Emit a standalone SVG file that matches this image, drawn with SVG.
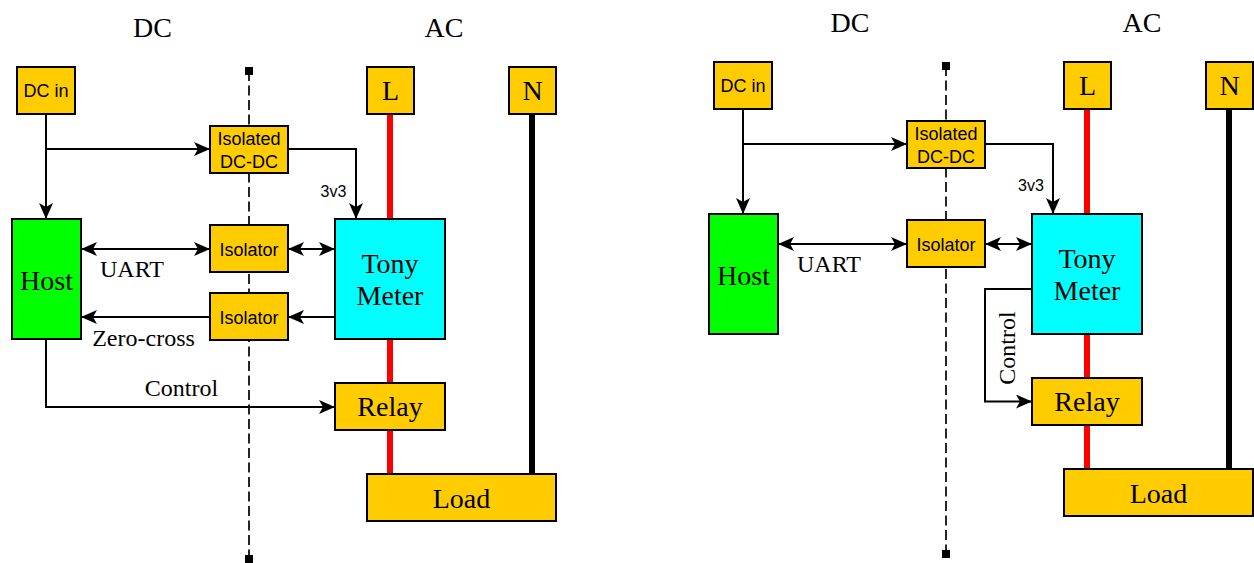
<svg xmlns="http://www.w3.org/2000/svg" width="1254" height="563" viewBox="0 0 1254 563">
<style>
.box{stroke:#000;stroke-width:2}
.amb{fill:#FFCC00}
.grn{fill:#00FF00}
.cyn{fill:#00FFFF}
.serif{font-family:"Liberation Serif","Times New Roman",serif;fill:#000}
.sans{font-family:"Liberation Sans",Arial,sans-serif;fill:#000}
.big{font-size:28px}
.mid{font-size:24px}
.sm{font-size:18px}
.xs{font-size:16px}
.c{text-anchor:middle}
.wire{fill:none;stroke:#000;stroke-width:2}
.arr{marker-end:url(#ah)}
.dbl{marker-start:url(#ah);marker-end:url(#ah)}
.dash{stroke:#000;stroke-width:1.7;stroke-dasharray:10 4.5;fill:none}
.red{stroke:#FF0000;stroke-width:6;fill:none}
.blk{stroke:#000;stroke-width:6;fill:none}
</style>
<defs>
<marker id="ah" markerUnits="userSpaceOnUse" viewBox="0 0 16 14" refX="16" refY="7" markerWidth="16" markerHeight="14" orient="auto-start-reverse">
<path d="M0,0 L16,7 L0,14 L4,7 Z" fill="#000"/>
</marker>
</defs>
<rect width="1254" height="563" fill="#fff"/>

<!-- titles -->
<g id="titles">
<text class="serif big c" x="152.5" y="37">DC</text>
<text class="serif big c" x="444" y="37">AC</text>
<text class="serif big c" x="850" y="32">DC</text>
<text class="serif big c" x="1142" y="32">AC</text>
</g>

<!-- isolation barriers -->
<g id="barrier-left">
<line class="dash" x1="249" y1="71" x2="249" y2="559"/>
<rect x="245" y="67" width="8" height="8" fill="#000"/>
<rect x="245" y="555" width="8" height="8" fill="#000"/>
</g>
<g id="barrier-right">
<line class="dash" x1="946" y1="66" x2="946" y2="554"/>
<rect x="942" y="62" width="8" height="8" fill="#000"/>
<rect x="942" y="550" width="8" height="8" fill="#000"/>
</g>

<!-- connectors -->
<g id="connectors">
<!-- left -->
<path class="red" d="M390,114 V219 M390,339 V383 M390,430 V474"/>
<path class="blk" d="M532,114 V474"/>
<path class="wire arr" d="M46,114 V219"/>
<path class="wire arr" d="M46,149 H210"/>
<path class="wire arr" d="M288,149 H356 V219"/>
<path class="wire dbl" d="M81,249 H210"/>
<path class="wire dbl" d="M288,249 H335"/>
<path class="wire arr" d="M335,317 H288"/>
<path class="wire arr" d="M210,317 H81"/>
<path class="wire arr" d="M46,339 V407 H335"/>
<text class="sans xs c" x="333.5" y="197">3v3</text>
<text class="serif mid" x="100" y="277">UART</text>
<text class="serif mid c" x="143.5" y="346">Zero-cross</text>
<text class="serif mid c" x="181.5" y="396">Control</text>
<!-- right -->
<path class="red" d="M1087,109 V214 M1087,334 V378 M1087,425 V469"/>
<path class="blk" d="M1229,109 V469"/>
<path class="wire arr" d="M743,109 V214"/>
<path class="wire arr" d="M743,144 H907"/>
<path class="wire arr" d="M985,144 H1053 V214"/>
<path class="wire dbl" d="M778,244 H907"/>
<path class="wire dbl" d="M985,244 H1032"/>
<path class="wire arr" d="M1032,289 H985 V401.5 H1032"/>
<text class="sans xs c" x="1031" y="191">3v3</text>
<text class="serif mid" x="797" y="272">UART</text>
<text class="serif mid c" transform="translate(1015,348) rotate(-90)" x="0" y="0">Control</text>
</g>

<!-- left nodes -->
<g id="dcin-left"><rect class="box amb" x="17" y="67" width="58" height="47"/><text class="sans sm c" x="46" y="97">DC in</text></g>
<g id="dcdc-left"><rect class="box amb" x="210" y="126" width="78" height="47"/><text class="sans sm c" x="249" y="145">Isolated</text><text class="sans sm c" x="249" y="168">DC-DC</text></g>
<g id="host-left"><rect class="box grn" x="12" y="219" width="69" height="120"/><text class="serif big c" x="46.5" y="290">Host</text></g>
<g id="iso1-left"><rect class="box amb" x="210" y="225" width="78" height="47"/><text class="sans sm c" x="249" y="256">Isolator</text></g>
<g id="iso2-left"><rect class="box amb" x="210" y="293" width="78" height="47"/><text class="sans sm c" x="249" y="324">Isolator</text></g>
<g id="meter-left"><rect class="box cyn" x="335" y="219" width="110" height="120"/><text class="serif big c" x="390" y="273">Tony</text><text class="serif big c" x="390" y="305">Meter</text></g>
<g id="L-left"><rect class="box amb" x="367" y="67" width="47" height="47"/><text class="serif big c" x="390.5" y="100">L</text></g>
<g id="N-left"><rect class="box amb" x="509" y="67" width="47" height="47"/><text class="serif big c" x="532.5" y="100">N</text></g>
<g id="relay-left"><rect class="box amb" x="335" y="383" width="110" height="47"/><text class="serif big c" x="390" y="416">Relay</text></g>
<g id="load-left"><rect class="box amb" x="367" y="474" width="189" height="47"/><text class="serif big c" x="461.5" y="508">Load</text></g>

<!-- right nodes -->
<g id="dcin-right"><rect class="box amb" x="714" y="62" width="58" height="47"/><text class="sans sm c" x="743" y="92">DC in</text></g>
<g id="dcdc-right"><rect class="box amb" x="907" y="121" width="78" height="47"/><text class="sans sm c" x="946" y="140">Isolated</text><text class="sans sm c" x="946" y="163">DC-DC</text></g>
<g id="host-right"><rect class="box grn" x="709" y="214" width="69" height="120"/><text class="serif big c" x="743.5" y="285">Host</text></g>
<g id="iso-right"><rect class="box amb" x="907" y="220" width="78" height="47"/><text class="sans sm c" x="946" y="251">Isolator</text></g>
<g id="meter-right"><rect class="box cyn" x="1032" y="214" width="110" height="120"/><text class="serif big c" x="1087" y="268">Tony</text><text class="serif big c" x="1087" y="300">Meter</text></g>
<g id="L-right"><rect class="box amb" x="1064" y="62" width="47" height="47"/><text class="serif big c" x="1087.5" y="95">L</text></g>
<g id="N-right"><rect class="box amb" x="1206" y="62" width="47" height="47"/><text class="serif big c" x="1229.5" y="95">N</text></g>
<g id="relay-right"><rect class="box amb" x="1032" y="378" width="110" height="47"/><text class="serif big c" x="1087" y="411">Relay</text></g>
<g id="load-right"><rect class="box amb" x="1064" y="469" width="189" height="47"/><text class="serif big c" x="1158.5" y="503">Load</text></g>
</svg>
